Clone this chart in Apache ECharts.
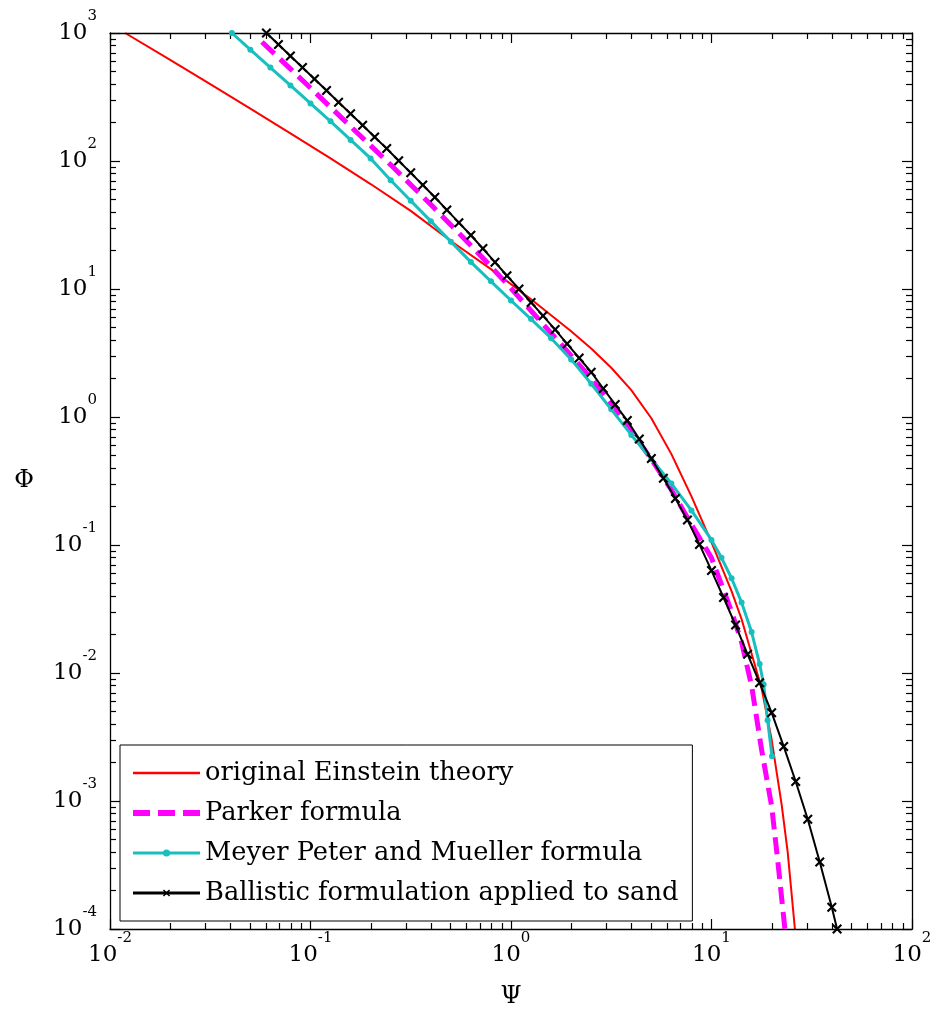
<!DOCTYPE html>
<html>
<head>
<meta charset="utf-8">
<script src="https://cdn.jsdelivr.net/npm/echarts@6/dist/echarts.min.js"></script>
<style>
  html, body { margin: 0; padding: 0; background: #fff; }
  #chart { width: 936px; height: 1012px; }
</style>
</head>
<body>
<div id="chart"></div>
<script>
// Dimensionless bed-load transport: intensity Phi against flow parameter Psi

const seriesNames = [
  'original Einstein theory',
  'Parker formula',
  'Meyer Peter and Mueller formula',
  'Ballistic formulation applied to sand'
];

// original Einstein theory
const einsteinPsi = [0.0119, 0.01995, 0.03162, 0.05012, 0.07943, 0.1259, 0.1995, 0.3162, 0.5012, 0.7943,
  1.259, 1.995, 2.512, 3.162, 3.981, 5.012, 6.310, 7.943, 10.0, 12.59, 14.13, 15.85, 17.78, 19.95,
  22.39, 23.99, 26.06];
const einsteinPhi = [1000, 616.6, 398.1, 257.0, 164.1, 104.7, 66.07, 40.74, 23.71, 14.29,
  8.318, 4.677, 3.428, 2.427, 1.622, 0.9772, 0.5129, 0.2399, 0.1047, 0.04365, 0.0263, 0.01413,
  0.007586, 0.00302, 0.000933, 0.000398, 0.0001];

// Parker formula
const parkerPsi = [0.05728, 0.07943, 0.1, 0.1259, 0.1585, 0.1995, 0.2512, 0.3162, 0.3981, 0.5012,
  0.6310, 0.7943, 1.0, 1.259, 1.585, 1.995, 2.512, 3.162, 3.981, 5.012, 6.310, 7.943, 10.0,
  11.22, 12.59, 14.13, 15.85, 17.78, 19.95, 21.38, 23.23];
const parkerPhi = [851.1, 524.8, 371.5, 263.0, 186.2, 131.8, 93.33, 65.31, 45.71, 31.62,
  21.88, 14.96, 10.12, 6.761, 4.519, 3.020, 1.995, 1.259, 0.7762, 0.4677, 0.2692, 0.1445, 0.07943,
  0.04898, 0.0302, 0.01738, 0.007943, 0.002512, 0.000912, 0.0003467, 0.0001];

// Meyer Peter and Mueller formula
const mpmPsi = [0.04055, 0.05012, 0.06310, 0.07943, 0.1, 0.1259, 0.1585, 0.1995, 0.2512, 0.3162,
  0.3981, 0.5012, 0.6310, 0.7943, 1.0, 1.259, 1.585, 1.995, 2.512, 3.162, 3.981, 5.012, 6.310,
  7.943, 10.0, 11.22, 12.59, 14.13, 15.85, 17.38, 18.20, 19.05, 20.04];
const mpmPhi = [1000, 741.3, 537.0, 389.0, 281.8, 204.2, 146.2, 104.7, 70.79, 48.98,
  33.88, 23.44, 16.22, 11.48, 8.128, 5.821, 4.121, 2.818, 1.820, 1.148, 0.7244, 0.4677, 0.3020,
  0.1862, 0.1096, 0.07943, 0.05495, 0.03548, 0.02089, 0.01175, 0.008128, 0.004266, 0.002239];

// Ballistic formulation applied to sand
const ballisticPsi = [0.0603, 0.0692, 0.0794, 0.0912, 0.1047, 0.1202, 0.1380, 0.1585, 0.1820, 0.2089,
  0.2399, 0.2754, 0.3162, 0.3631, 0.4169, 0.4786, 0.5495, 0.6310, 0.7244, 0.8318, 0.9550, 1.096,
  1.259, 1.445, 1.660, 1.905, 2.188, 2.512, 2.884, 3.311, 3.802, 4.365, 5.012, 5.754, 6.607, 7.586,
  8.710, 10.0, 11.48, 13.18, 15.14, 17.38, 19.95, 22.91, 26.30, 30.20, 34.67, 39.81, 42.3];
const ballisticPhi = [1000, 813, 661, 537, 437, 355, 288, 234, 190, 154,
  125, 100.4, 80.8, 65.0, 52.1, 41.5, 33.0, 26.3, 20.7, 16.2, 12.7, 10.0,
  7.85, 6.17, 4.82, 3.73, 2.89, 2.24, 1.67, 1.25, 0.937, 0.673, 0.473, 0.333, 0.231, 0.157,
  0.101, 0.0631, 0.0389, 0.0237, 0.0140, 0.00839, 0.00490, 0.00267, 0.00142, 0.000721, 0.000334, 0.000148, 0.0001];

// decade ticks (labelled) on both axes
const xMajorTicks = [0.01, 0.1, 1, 10, 100];
const yMajorTicks = [0.0001, 0.001, 0.01, 0.1, 1, 10, 100, 1000];

// unlabelled ticks at 2..9 within each decade
function minorTicksFor(majors) {
  const out = [];
  for (let i = 0; i < majors.length - 1; i++) {
    for (let m = 2; m <= 9; m++) out.push(+(majors[i] * m).toPrecision(6));
  }
  return out;
}
const xMinorTicks = minorTicksFor(xMajorTicks);
const yMinorTicks = minorTicksFor(yMajorTicks);

const FONT = 'DejaVu Serif';
const AX = { color: '#000', width: 1.3 };

const pairs = (xs, ys) => xs.map((x, i) => [x, ys[i]]);

const powerLabel = {
  formatter: v => '{b|10}{e|' + Math.round(Math.log10(v)) + '}',
  rich: {
    b: { fontFamily: FONT, fontSize: 23, color: '#000', verticalAlign: 'middle' },
    e: { fontFamily: FONT, fontSize: 15, color: '#000', verticalAlign: 'middle', padding: [0, 0, 34, 0] }
  }
};

function logAxis(kind, position, opts) {
  const isX = kind === 'x';
  const base = {
    type: 'log', logBase: 10,
    min: isX ? 0.01 : 0.0001,
    max: isX ? 100 : 1000,
    position: position,
    splitLine: { show: false },
    axisLine: { show: opts.line, onZero: false, lineStyle: AX },
    axisTick: {
      show: true, inside: true, length: opts.tickLen,
      customValues: opts.ticks,
      lineStyle: { color: '#000', width: 1.2 }
    },
    axisLabel: { show: false },
    z: 3
  };
  if (opts.labels) {
    base.axisLabel = Object.assign({ show: true, customValues: opts.ticks, margin: opts.margin }, powerLabel);
  }
  return base;
}

const xAxes = [
  Object.assign(logAxis('x', 'bottom', { line: true, tickLen: 10, ticks: xMajorTicks, labels: true, margin: 2 }), {
    name: 'Ψ', nameLocation: 'middle', nameGap: 56,
    nameTextStyle: { fontFamily: FONT, fontSize: 24, color: '#000' }
  }),
  logAxis('x', 'top', { line: true, tickLen: 10, ticks: xMajorTicks }),
  logAxis('x', 'bottom', { line: false, tickLen: 6, ticks: xMinorTicks }),
  logAxis('x', 'top', { line: false, tickLen: 6, ticks: xMinorTicks })
];

const yAxes = [
  Object.assign(logAxis('y', 'left', { line: true, tickLen: 10, ticks: yMajorTicks, labels: true, margin: 13 }), {
    name: 'Φ', nameLocation: 'middle', nameGap: 76, nameRotate: 0,
    nameTextStyle: { fontFamily: FONT, fontSize: 24, color: '#000' }
  }),
  logAxis('y', 'right', { line: true, tickLen: 10, ticks: yMajorTicks }),
  logAxis('y', 'left', { line: false, tickLen: 6, ticks: yMinorTicks }),
  logAxis('y', 'right', { line: false, tickLen: 6, ticks: yMinorTicks })
];

const crossMark = 'path://M1.5,0 L5,3.5 L8.5,0 L10,1.5 L6.5,5 L10,8.5 L8.5,10 L5,6.5 L1.5,10 L0,8.5 L3.5,5 L0,1.5 Z';
const noMarker = { color: 'rgba(0,0,0,0)', opacity: 0, borderWidth: 0 };

const option = {
  animation: false,
  backgroundColor: '#fff',
  grid: { left: 110, top: 33, width: 802, height: 896, containLabel: false, outerBoundsMode: 'none' },
  xAxis: xAxes,
  yAxis: yAxes,
  legend: {
    orient: 'vertical',
    left: 120, top: 745,
    padding: [14, 14, 14, 10],
    itemGap: 12,
    itemWidth: 67, itemHeight: 9,
    backgroundColor: '#fff',
    borderColor: '#000', borderWidth: 1,
    textStyle: { fontFamily: FONT, fontSize: 25.7, color: '#000', lineHeight: 28 },
    data: [
      { name: seriesNames[0], itemStyle: noMarker, lineStyle: { width: 2.5 } },
      { name: seriesNames[1], itemStyle: noMarker, lineStyle: { width: 6 } },
      { name: seriesNames[2], lineStyle: { width: 3 } },
      { name: seriesNames[3], lineStyle: { width: 3 } }
    ]
  },
  series: [
    {
      name: seriesNames[0], type: 'line',
      data: pairs(einsteinPsi, einsteinPhi),
      symbol: 'none', smooth: false,
      lineStyle: { color: '#ff0000', width: 2 },
      itemStyle: { color: '#ff0000' },
      z: 2
    },
    {
      name: seriesNames[1], type: 'line',
      data: pairs(parkerPsi, parkerPhi),
      symbol: 'none',
      lineStyle: { color: '#ff00ff', width: 5, type: [17, 8] },
      itemStyle: { color: '#ff00ff' },
      z: 3
    },
    {
      name: seriesNames[2], type: 'line',
      data: pairs(mpmPsi, mpmPhi),
      symbol: 'circle', symbolSize: 6, showSymbol: true,
      lineStyle: { color: '#17bfbf', width: 3 },
      itemStyle: { color: '#17bfbf', borderWidth: 0 },
      z: 4
    },
    {
      name: seriesNames[3], type: 'line',
      data: pairs(ballisticPsi, ballisticPhi),
      symbol: crossMark, symbolSize: 10, showSymbol: true,
      lineStyle: { color: '#000', width: 2 },
      itemStyle: { color: '#000', borderWidth: 0 },
      z: 5
    }
  ]
};

const chart = echarts.init(document.getElementById('chart'), null, { renderer: 'canvas' });
chart.setOption(option);
</script>
</body>
</html>
